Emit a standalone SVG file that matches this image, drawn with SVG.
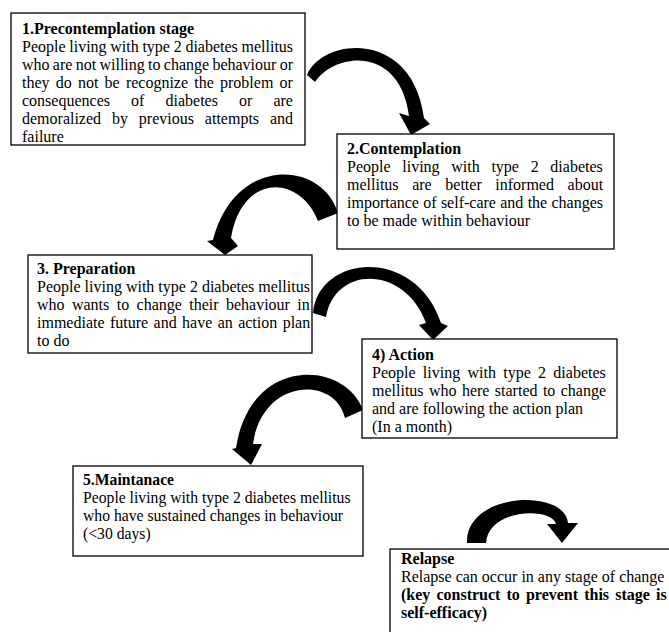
<svg xmlns="http://www.w3.org/2000/svg" width="669" height="632" viewBox="0 0 669 632">
<style>
.box{fill:#fff;stroke:#000;stroke-width:1.3}
text{font-family:"Liberation Serif","Times New Roman",serif;font-size:16px;fill:#000}
.b{font-weight:bold}
.s{font-size:15.7px}
.arrow{fill:#000;stroke:none}
</style>
<rect width="669" height="632" fill="#fff"/>
<g id="connectors">
<path class="arrow" d="M307 75 C322 38 412 28 424 118 L430 124 L411 135 L399 113 L409 116 C400 45 335 52 315 82 Z"/>
<path class="arrow" d="M338 213 C322 160 235 155 213 240 L207 241 L225 255 L238 246 L231 238 C242 172 300 175 318 221 Z"/>
<path class="arrow" d="M313 313 C318 255 415 245 441 323 L448 326 L433 340 L419 325 L426 323 C405 265 335 265 326 317 Z"/>
<path class="arrow" d="M363 410 C345 360 250 355 236 448 L232 449 L251 465 L262 444 L253 444 C262 378 335 375 345 418 Z"/>
<path class="arrow" d="M467 543 C465 492 565 488 568 523 L578 523 L562 543 L547 524 L556 524 C552 507 488 508 486 543 Z"/>
</g>
<g id="node1">
<rect class="box" x="11" y="13" width="294" height="132"/>
<text x="22" y="33.5" class="b">1.Precontemplation stage</text>
<text x="22" y="51.5" style="word-spacing:-0.3px">People living with type 2 diabetes mellitus</text>
<text x="22" y="69.5" style="word-spacing:-0.7px">who are not willing to change behaviour or</text>
<text x="22" y="87.5" style="word-spacing:2.2px">they do not be recognize the problem or</text>
<text x="22" y="105.5" style="word-spacing:17.1px">consequences of diabetes or are</text>
<text x="22" y="123.5" style="word-spacing:6.9px">demoralized by previous attempts and</text>
<text x="22" y="141.5">failure</text>
</g>
<g id="node2">
<rect class="box" x="337" y="134" width="277" height="115"/>
<text x="347" y="154.3" class="b">2.Contemplation</text>
<text x="347" y="172.3" style="word-spacing:7.7px">People living with type 2 diabetes</text>
<text x="347" y="190.3" style="word-spacing:9.6px">mellitus are better informed about</text>
<text x="347" y="208.3" style="word-spacing:0.3px">importance of self-care and the changes</text>
<text x="347" y="226.3">to be made within behaviour</text>
</g>
<g id="node3">
<rect class="box" x="28" y="255" width="284" height="98"/>
<text x="37" y="274" class="b">3. Preparation</text>
<text x="37" y="292">People living with type 2 diabetes mellitus</text>
<text x="37" y="310" style="word-spacing:3.4px">who wants to change their behaviour in</text>
<text x="37" y="328" style="word-spacing:1.4px">immediate future and have an action plan</text>
<text x="37" y="346">to do</text>
</g>
<g id="node4">
<rect class="box" x="362" y="339" width="255" height="99"/>
<text x="372" y="360" class="b">4) Action</text>
<text x="372" y="378" style="word-spacing:3.3px">People living with type 2 diabetes</text>
<text x="372" y="396" style="word-spacing:1.4px">mellitus who here started to change</text>
<text x="372" y="413.5">and are following the action plan</text>
<text x="372" y="431.5">(In a month)</text>
</g>
<g id="node5">
<rect class="box" x="73" y="466" width="290" height="90"/>
<text x="83" y="485" class="b s">5.Maintanace</text>
<text x="83" y="503.3" class="s">People living with type 2 diabetes mellitus</text>
<text x="83" y="521" class="s">who have sustained changes in behaviour</text>
<text x="83" y="539" class="s">(&lt;30 days)</text>
</g>
<g id="relapse">
<rect class="box" x="390" y="549" width="300" height="100"/>
<text x="401" y="563.5" class="b">Relapse</text>
<text x="401" y="581.5">Relapse can occur in any stage of change</text>
<text x="401" y="599.5" class="b" style="word-spacing:2.1px">(key construct to prevent this stage is</text>
<text x="401" y="617.5" class="b">self-efficacy)</text>
</g>
</svg>
